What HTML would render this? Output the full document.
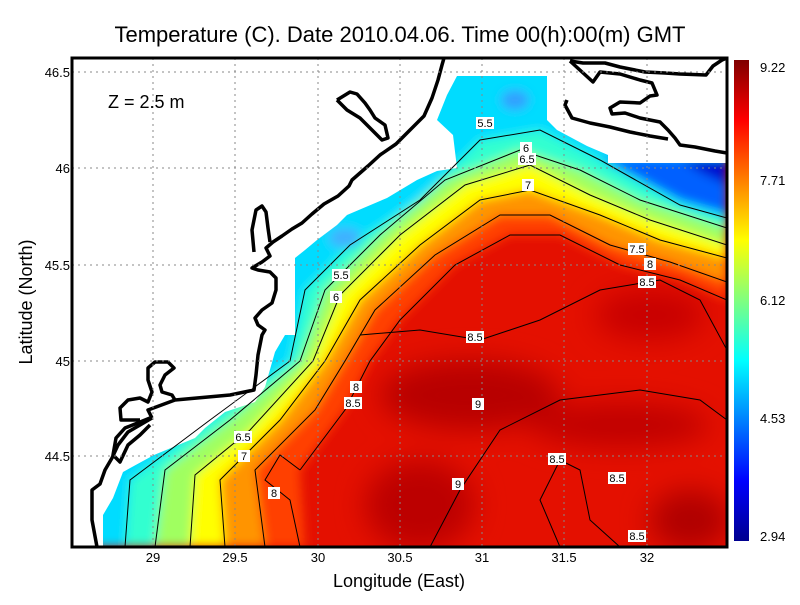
<!DOCTYPE html>
<html><head><meta charset="utf-8"><style>
body{margin:0;background:#fff;width:800px;height:600px;overflow:hidden}
svg text{font-family:"Liberation Sans",sans-serif}
</style></head><body>
<svg width="800" height="600" viewBox="0 0 800 600" xmlns="http://www.w3.org/2000/svg">
<defs>
<clipPath id="pc"><rect x="72" y="58" width="655" height="489"/></clipPath>
<filter id="bl" x="-5%" y="-5%" width="110%" height="110%"><feGaussianBlur stdDeviation="5"/></filter>
<filter id="bl2" x="-20%" y="-20%" width="140%" height="140%"><feGaussianBlur stdDeviation="14"/></filter>
<linearGradient id="cb" x1="0" y1="1" x2="0" y2="0">
<stop offset="0" stop-color="#00008f"/><stop offset="0.125" stop-color="#0000ff"/>
<stop offset="0.375" stop-color="#00ffff"/><stop offset="0.625" stop-color="#ffff00"/>
<stop offset="0.875" stop-color="#ff0000"/><stop offset="1" stop-color="#800000"/>
</linearGradient>
</defs>
<text x="400" y="42" text-anchor="middle" font-size="22">Temperature (C). Date 2010.04.06. Time 00(h):00(m) GMT</text>
<g clip-path="url(#pc)">
<rect x="72" y="58" width="655" height="489" fill="#e41000"/>
<g filter="url(#bl2)">
<ellipse cx="470" cy="395" rx="90" ry="35" fill="#b80000"/>
<ellipse cx="420" cy="505" rx="55" ry="45" fill="#bc0000"/>
<ellipse cx="620" cy="425" rx="90" ry="22" fill="#c00000"/>
<ellipse cx="690" cy="520" rx="40" ry="30" fill="#b00000"/>
<ellipse cx="650" cy="315" rx="55" ry="25" fill="#c80000"/>
</g>
<g filter="url(#bl)">
<polygon fill="#ff4000" points="72,58 727,58 727,300 680,280 620,265 560,235 510,235 455,265 400,320 370,361 345,410 300,470 305,547 72,547"/>
<polygon fill="#ff9400" points="72,58 727,58 727,282 670,262 610,245 550,215 500,215 435,255 375,310 345,361 315,410 255,470 265,547 72,547"/>
<polygon fill="#ffff00" points="72,58 727,58 727,258 660,240 600,215 530,190 480,200 420,245 360,300 325,361 280,420 220,480 225,547 72,547"/>
<polygon fill="#a0ff60" points="72,58 727,58 727,245 650,220 590,195 530,165 465,185 400,235 340,295 313,361 250,430 195,475 190,547 72,547"/>
<polygon fill="#30ffd0" points="72,58 727,58 727,228 640,200 580,170 520,150 445,180 380,235 325,290 300,361 230,420 165,470 155,547 72,547"/>
<polygon fill="#00dcff" points="72,58 727,58 727,218 680,205 600,160 540,130 480,140 420,200 350,245 305,290 290,361 210,420 130,480 125,547 72,547"/>
<polygon fill="#0060ff" points="600,158 727,158 727,214 680,200"/>
<polygon fill="#0010d0" points="680,158 727,158 727,185 700,172"/>
<ellipse cx="515" cy="100" rx="14" ry="10" fill="#30a0ff"/>
<ellipse cx="345" cy="238" rx="16" ry="10" fill="#40b0ff"/>
</g>
<polygon fill="#fff" points="72,58 727,58 727,163 608,163 608,155 587,146 557,130 547,120 547,76 457,76 447,95 437,120 453,135 457,168 437,171 417,180 387,198 347,215 337,225 317,240 305,250 295,258 295,335 285,335 275,352 265,387 255,402 225,412 205,428 195,438 154,455 123,472 113,498 103,515 103,547 72,547"/>
<g fill="none" stroke="#000" stroke-width="1">
<polyline points="727,300 680,280 620,265 560,235 510,235 455,265 400,320 370,361 345,410 300,470"/>
<polyline points="727,282 670,262 610,245 550,215 500,215 435,255 375,310 345,361 315,410 255,470 265,547"/>
<polyline points="727,258 660,240 600,215 530,190 480,200 420,245 360,300 325,361 280,420 220,480 225,547"/>
<polyline points="727,245 650,220 590,195 530,165 465,185 400,235 340,295 313,361 250,430 195,475 190,547"/>
<polyline points="727,228 640,200 580,170 520,150 445,180 380,235 325,290 300,361 230,420 165,470 155,547"/>
<polyline points="727,218 680,205 600,160 540,130 480,140 420,200 350,245 305,290 290,361 210,420 130,480 125,547"/>
<polyline points="300,470 280,455 265,480 290,500 300,547"/>
<polyline points="360,335 420,330 480,340 540,320 600,290 660,280 700,300 727,350"/>
<polyline points="430,547 460,490 500,430 560,400 640,390 700,400 727,420"/>
<polyline points="560,547 540,500 560,460 580,470 590,520 620,547"/>
</g>
<g fill="none" stroke="#000" stroke-width="3.5" stroke-linejoin="round">
<polyline points="97,547 92,520 92,490 100,484 105,470 112,458 118,445 128,432 140,425 152,418"/>
<polyline points="152,418 148,410 175,400 230,395 254,390 256,375 258,355 262,335 265,330 258,325 255,318 262,310 272,303 276,290 276,278 270,272 258,270 252,268 262,262 270,256 266,248 273,242 282,236 292,229 302,223 312,214 324,204 338,196 349,186 352,180 368,166 380,155 396,144 410,130 424,116 432,98 438,80 442,65 444,58"/>
<polyline points="254,252 252,230 256,210 262,206 266,212 268,228 270,242"/>
<polyline points="150,418 125,428 116,438 113,455 120,462 128,445 140,435 150,425"/>
<polyline points="140,420 121,420 120,408 128,400 140,398 148,402 152,392 148,380 148,368 155,362 168,362 174,368 165,375 160,385 162,392 172,395 175,400"/>
<polyline points="337,100 350,92 357,94 365,103 370,110 375,118 385,125 388,138 382,140 372,130 360,118 347,110 337,100"/>
<polyline points="570,61 583,63 605,63 620,67 645,72 665,73 680,74 706,75 713,66 722,60 727,58"/>
<polyline points="570,61 593,82 600,72 620,74 640,80 652,83 657,95 650,96 640,103 620,102 610,108 612,114 625,113 640,118 660,122 668,130 675,138 680,145 695,147 715,151 727,153"/>
<polyline points="567,100 565,105 572,118 590,123 610,127 630,132 650,136 668,139"/>
</g>
<g stroke="#888" stroke-width="1" stroke-dasharray="2,4">
<line x1="153" y1="58" x2="153" y2="547"/><line x1="235" y1="58" x2="235" y2="547"/>
<line x1="318" y1="58" x2="318" y2="547"/><line x1="400" y1="58" x2="400" y2="547"/>
<line x1="482" y1="58" x2="482" y2="547"/><line x1="564" y1="58" x2="564" y2="547"/>
<line x1="647" y1="58" x2="647" y2="547"/>
<line x1="72" y1="72" x2="727" y2="72"/><line x1="72" y1="168" x2="727" y2="168"/>
<line x1="72" y1="265" x2="727" y2="265"/><line x1="72" y1="361" x2="727" y2="361"/>
<line x1="72" y1="456" x2="727" y2="456"/>
</g>
<g font-size="11" text-anchor="middle">
<g fill="#fff"><rect x="476" y="117" width="18" height="12"/><rect x="520" y="142" width="12" height="12"/><rect x="518" y="153" width="18" height="12"/><rect x="522" y="179" width="12" height="12"/><rect x="332" y="269" width="18" height="12"/><rect x="330" y="291" width="12" height="12"/><rect x="628" y="243" width="18" height="12"/><rect x="644" y="258" width="12" height="12"/><rect x="638" y="276" width="18" height="12"/><rect x="466" y="331" width="18" height="12"/><rect x="350" y="381" width="12" height="12"/><rect x="344" y="397" width="18" height="12"/><rect x="472" y="398" width="12" height="12"/><rect x="234" y="431" width="18" height="12"/><rect x="238" y="450" width="12" height="12"/><rect x="268" y="487" width="12" height="12"/><rect x="452" y="478" width="12" height="12"/><rect x="548" y="453" width="18" height="12"/><rect x="608" y="472" width="18" height="12"/><rect x="628" y="530" width="18" height="12"/></g>
<text x="485" y="127">5.5</text><text x="526" y="152">6</text><text x="527" y="163">6.5</text><text x="528" y="189">7</text>
<text x="341" y="279">5.5</text><text x="336" y="301">6</text><text x="637" y="253">7.5</text><text x="650" y="268">8</text><text x="647" y="286">8.5</text>
<text x="475" y="341">8.5</text><text x="356" y="391">8</text><text x="353" y="407">8.5</text><text x="478" y="408">9</text>
<text x="243" y="441">6.5</text><text x="244" y="460">7</text><text x="274" y="497">8</text><text x="458" y="488">9</text>
<text x="557" y="463">8.5</text><text x="617" y="482">8.5</text><text x="637" y="540">8.5</text>
</g>
<text x="108" y="108" font-size="18">Z = 2.5 m</text>
</g>
<rect x="72" y="58" width="655" height="489" fill="none" stroke="#000" stroke-width="3"/>
<g font-size="13" text-anchor="middle">
<text x="153" y="562">29</text><text x="235" y="562">29.5</text><text x="318" y="562">30</text><text x="400" y="562">30.5</text><text x="482" y="562">31</text><text x="564" y="562">31.5</text><text x="647" y="562">32</text>
</g>
<g font-size="13" text-anchor="end">
<text x="70" y="77">46.5</text><text x="70" y="173">46</text><text x="70" y="270">45.5</text><text x="70" y="366">45</text><text x="70" y="461">44.5</text>
</g>
<text x="399" y="587" font-size="18" text-anchor="middle">Longitude (East)</text>
<text x="32" y="302" font-size="18" text-anchor="middle" transform="rotate(-90 32 302)">Latitude (North)</text>
<rect x="734" y="60" width="15" height="481" fill="url(#cb)"/>
<g font-size="13">
<text x="760" y="72">9.22</text><text x="760" y="185">7.71</text><text x="760" y="305">6.12</text><text x="760" y="423">4.53</text><text x="760" y="541">2.94</text>
</g>
</svg>
</body></html>
